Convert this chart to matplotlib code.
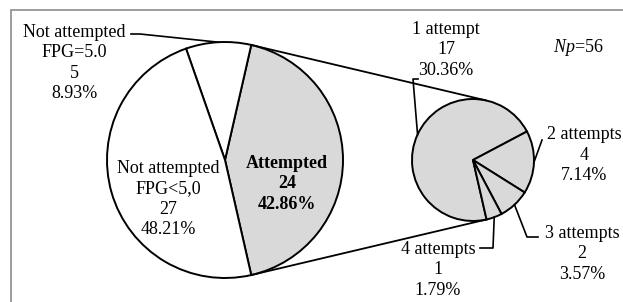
import numpy as np
import matplotlib
matplotlib.use('Agg')
import matplotlib.pyplot as plt
from matplotlib.patches import Rectangle

plt.rcParams['font.family'] = ['Liberation Serif', 'DejaVu Serif']
plt.rcParams['mathtext.fontset'] = 'custom'
plt.rcParams['mathtext.it'] = 'Liberation Serif:italic'
plt.rcParams['mathtext.rm'] = 'Liberation Serif'
size = 13

# data
main_labels = ['Attempted', 'Not attempted\nFPG=5.0', 'Not attempted\nFPG<5,0']
main_values = [24, 5, 27]
sub_labels = ['1 attempt', '2 attempts', '3 attempts', '4 attempts']
sub_values = [17, 4, 2, 1]
total = sum(main_values)

gray = '#d9d9d9'
H = 302  # figure height in px, y values below are measured from the top


def py(y):
    return H - y


fig = plt.figure(figsize=(6.23, 3.02), dpi=100)
ax = fig.add_axes([0, 0, 1, 1])

c1, r1 = (225, py(160)), 118
c2, r2 = (473, py(160)), 61
theta = main_values[0] / total * 180

wp = dict(edgecolor='black', linewidth=1.4)
w1, _ = ax.pie(main_values, colors=[gray, 'white', 'white'], startangle=-theta,
               center=c1, radius=r1, wedgeprops=wp, frame=True)
w2, _ = ax.pie(sub_values, colors=[gray] * 4, startangle=-theta, counterclock=False,
               center=c2, radius=r2, wedgeprops=wp, frame=True)
ax.set_xlim(0, 623)
ax.set_ylim(0, H)
ax.set_aspect('equal')
ax.axis('off')

# frame (cropped on the right and bottom)
ax.add_patch(Rectangle((10.5, -5), 700, py(9.5) + 5, fill=False,
                       edgecolor='#8c8c8c', lw=1.2))

# connector lines between the two pies
for s in (1, -1):
    a = np.radians(s * theta)
    ax.plot([c1[0] + r1 * np.cos(a), c2[0] + r2 * np.cos(a)],
            [c1[1] + r1 * np.sin(a), c2[1] + r2 * np.sin(a)],
            color='black', lw=1.3, solid_capstyle='butt')


def edge(w):
    a = np.radians((w.theta1 + w.theta2) / 2)
    return w.center[0] + w.r * np.cos(a), w.center[1] + w.r * np.sin(a)


def label(text, x, y, bold=False):
    ax.text(x, py(y), text, ha='center', va='center', fontsize=size,
            fontweight='bold' if bold else 'normal', linespacing=1.25)


def pct(v):
    return f'{v / total * 100:.2f}%'


lk = dict(color='black', lw=1.2)

# main pie labels
label(f'{main_labels[0]}\n{main_values[0]}\n{pct(main_values[0])}', 287, 184, bold=True)
label(f'{main_labels[1]}\n{main_values[1]}\n{pct(main_values[1])}', 74, 63)
label(f'{main_labels[2]}\n{main_values[2]}\n{pct(main_values[2])}', 168, 199)
ex, ey = edge(w1[1])
ax.plot([ex, 140, 131], [ey, py(34), py(34)], **lk)

# sub pie labels
label(f'{sub_labels[0]}\n{sub_values[0]}\n{pct(sub_values[0])}', 446, 50)
label(f'{sub_labels[1]}\n{sub_values[1]}\n{pct(sub_values[1])}', 584, 155)
label(f'{sub_labels[2]}\n{sub_values[2]}\n{pct(sub_values[2])}', 582, 254)
label(f'{sub_labels[3]}\n{sub_values[3]}\n{pct(sub_values[3])}', 438, 270)

ex, ey = edge(w2[0])
ax.plot([ex, 413, 418], [ey, py(79), py(79)], **lk)
ex, ey = edge(w2[1])
ax.plot([ex, 542], [ey, py(140)], **lk)
ex, ey = edge(w2[2])
ax.plot([ex, 527, 538], [ey, py(237), py(237)], **lk)
ex, ey = edge(w2[3])
ax.plot([ex, 493, 480], [ey, py(248), py(248)], **lk)

ax.text(578, py(47), r'$\mathit{Np}$=' + str(total), ha='center', va='center',
        fontsize=size)

fig.savefig('out.png', dpi=100)
